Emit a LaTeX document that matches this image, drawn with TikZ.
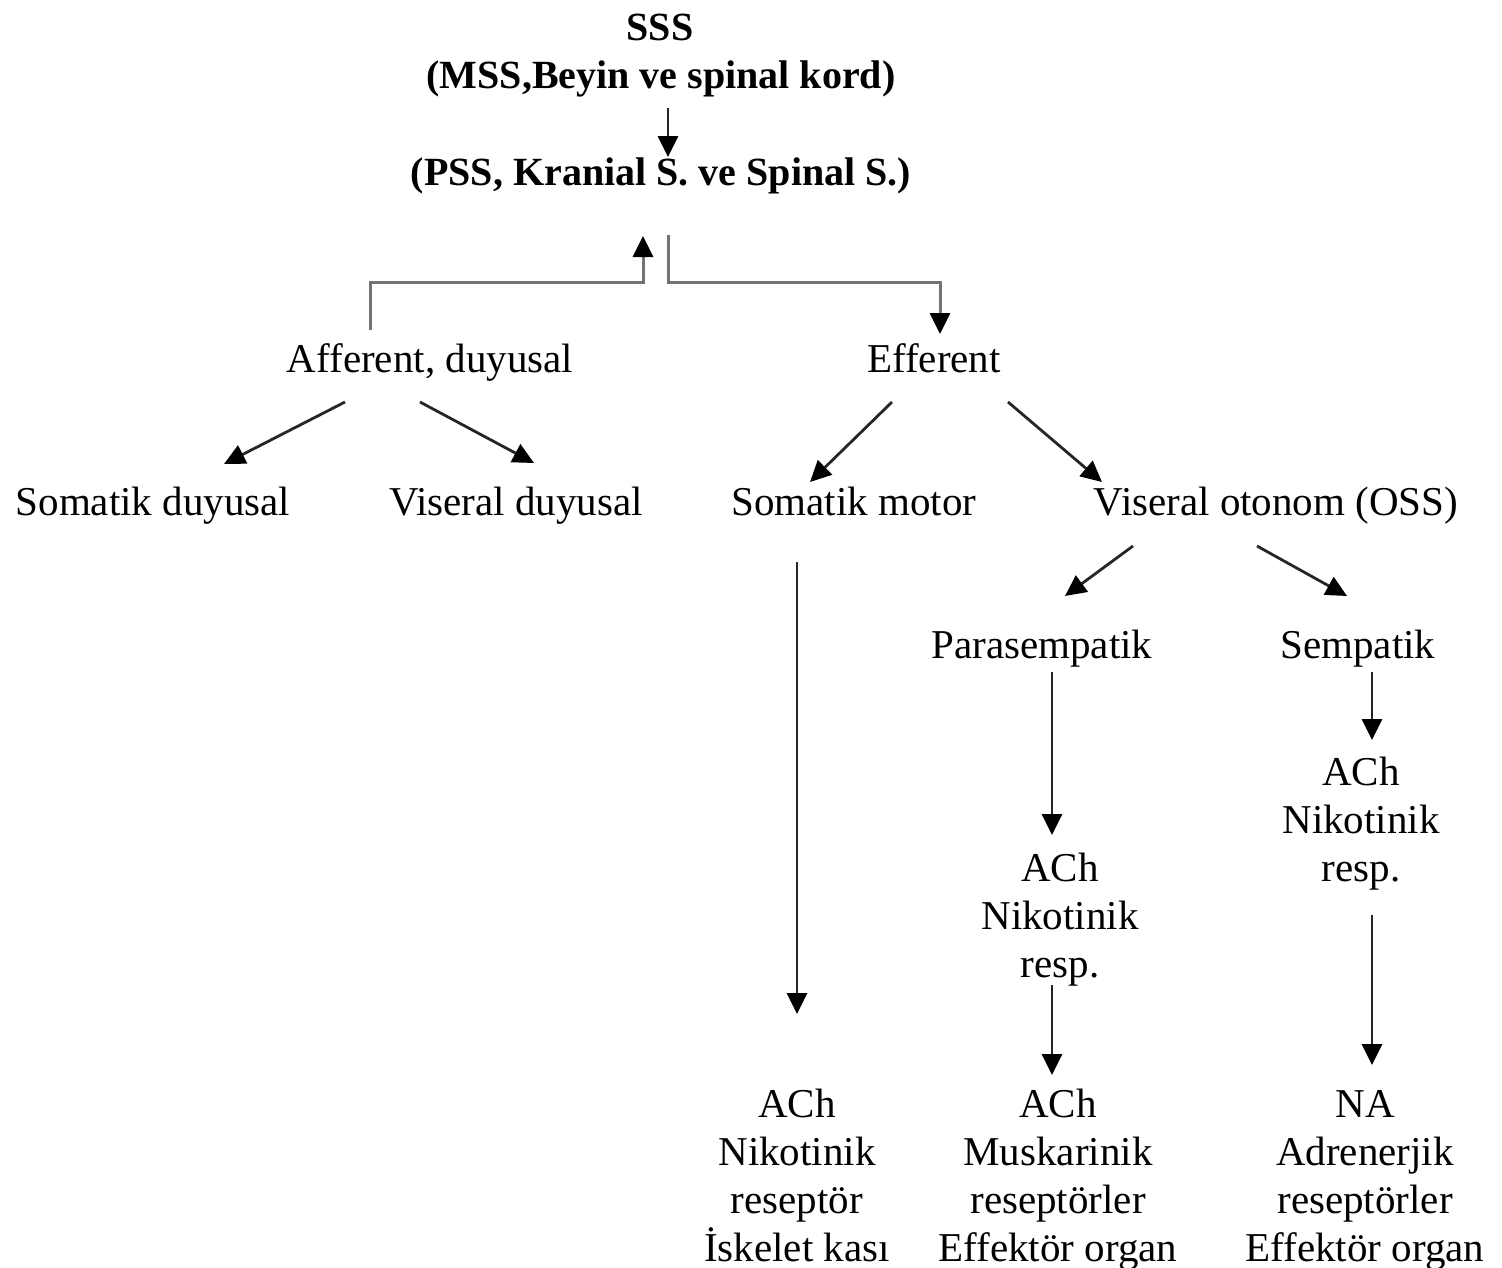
\documentclass[tikz,border=0pt]{standalone}
\usepackage{fontspec}
\setmainfont{Liberation Serif}
\usetikzlibrary{arrows.meta}
\begin{document}
\begin{tikzpicture}[x=1pt,y=-1pt,
  lbl/.style={inner sep=0pt, font=\fontsize{41}{48}\selectfont, align=center, anchor=base},
  blbl/.style={lbl, font=\bfseries\fontsize{40}{48}\selectfont},
  tip/.style={-{Triangle[length=21pt,width=20pt,color=black]}},
  ar/.style={line width=2.8pt, draw=black!85, tip},
  ln/.style={line width=3pt, draw=black!55}]
\useasboundingbox[fill=white] (0,0) rectangle (1502,1267);

% texts (multi-line nodes: base anchor = baseline of last line)
\node[blbl] (sss) at (660,40) {SSS};
\node[blbl] (mss) at (661,88) {(MSS,Beyin ve spinal kord)};
\node[blbl] (pss) at (661,185) {(PSS, Kranial S. ve Spinal S.)};
\node[lbl] (aff) at (430,372) {Afferent, duyusal};
\node[lbl] (eff) at (934,372) {Efferent};
\node[lbl] (sd) at (153,515) {Somatik duyusal};
\node[lbl] (vd) at (516,515) {Viseral duyusal};
\node[lbl] (sm) at (854,515) {Somatik motor};
\node[lbl] (vo) at (1276,515) {Viseral otonom (OSS)};
\node[lbl] (para) at (1042,658) {Parasempatik};
\node[lbl] (semp) at (1358,658) {Sempatik};
\node[lbl] (pn) at (1060,977) {ACh\\Nikotinik\\resp.};
\node[lbl] (sn) at (1361,881) {ACh\\Nikotinik\\resp.};
\node[lbl] (b1) at (797,1261) {ACh\\Nikotinik\\reseptör\\İskelet kası};
\node[lbl] (b2) at (1058,1261) {ACh\\Muskarinik\\reseptörler\\Effektör organ};
\node[lbl] (b3) at (1365,1261) {NA\\Adrenerjik\\reseptörler\\Effektör organ};

% connector end points
\coordinate (m0) at (668,108);  \coordinate (m1) at (668,157);
\coordinate (a0) at (370,330);  \coordinate (a1) at (370,282);
\coordinate (a2) at (643,282);  \coordinate (a3) at (643,236);
\coordinate (e0) at (668,235);  \coordinate (e1) at (668,282);
\coordinate (e2) at (940,282);  \coordinate (e3) at (940,334);
\coordinate (af0) at (345,402); \coordinate (af1) at (224,464);
\coordinate (av0) at (420,402); \coordinate (av1) at (534,463);
\coordinate (es0) at (892,402); \coordinate (es1) at (810,482);
\coordinate (ev0) at (1008,402);\coordinate (ev1) at (1102,482);
\coordinate (vp0) at (1133,546);\coordinate (vp1) at (1065,596);
\coordinate (vs0) at (1257,546);\coordinate (vs1) at (1347,596);
\coordinate (smA) at (797,562); \coordinate (smB) at (797,1014);
\coordinate (pA) at (1052,672); \coordinate (pB) at (1052,835);
\coordinate (sA) at (1372,672); \coordinate (sB) at (1372,740);
\coordinate (pnA) at (1052,985);\coordinate (pnB) at (1052,1075);
\coordinate (snA) at (1372,915);\coordinate (snB) at (1372,1065);

\draw[ar] (m0) -- (m1);
\draw[ln,tip] (a0) -- (a1) -- (a2) -- (a3);
\draw[ln,tip] (e0) -- (e1) -- (e2) -- (e3);
\draw[ar] (af0) -- (af1);
\draw[ar] (av0) -- (av1);
\draw[ar] (es0) -- (es1);
\draw[ar] (ev0) -- (ev1);
\draw[ar] (vp0) -- (vp1);
\draw[ar] (vs0) -- (vs1);
\draw[ar] (smA) -- (smB);
\draw[ar] (pA) -- (pB);
\draw[ar] (sA) -- (sB);
\draw[ar] (pnA) -- (pnB);
\draw[ar] (snA) -- (snB);
\end{tikzpicture}
\end{document}
